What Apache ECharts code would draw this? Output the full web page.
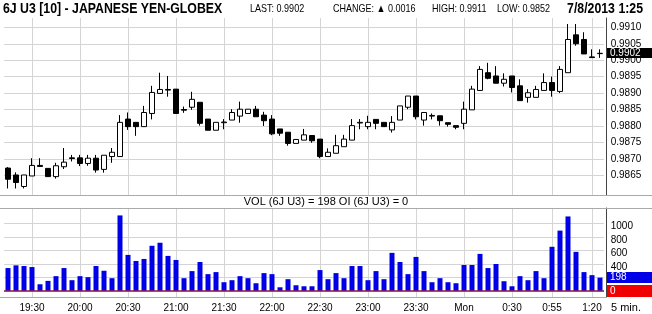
<!DOCTYPE html>
<html><head><meta charset="utf-8">
<script src="https://cdn.jsdelivr.net/npm/echarts@6/dist/echarts.min.js"></script>
<style>html,body{margin:0;padding:0;background:#fff}#c{width:652px;height:314px}</style>
</head><body><div id="c"></div>
<script>
// ---- data ----
const categories = ("19:15 19:20 19:25 19:30 19:35 19:40 19:45 19:50 19:55 " +
  "20:00 20:05 20:10 20:15 20:20 20:25 20:30 20:35 20:40 20:45 20:50 20:55 " +
  "21:00 21:05 21:10 21:15 21:20 21:25 21:30 21:35 21:40 21:45 21:50 21:55 " +
  "22:00 22:05 22:10 22:15 22:20 22:25 22:30 22:35 22:40 22:45 22:50 22:55 " +
  "23:00 23:05 23:10 23:15 23:20 23:25 23:30 23:35 23:40 23:45 23:50 23:55 " +
  "0:00 0:05 0:10 0:15 0:20 0:25 0:30 0:35 0:40 0:45 0:50 0:55 " +
  "1:00 1:05 1:10 1:15 1:20 1:25").split(' ');

const openP = [0.98672,0.98651,0.98616,0.98648,0.98680,0.98671,0.98646,0.98676,0.98703,0.98703,
  0.98686,0.98702,0.98668,0.98707,0.98707,0.98821,0.98811,0.98798,0.98838,0.98899,
  0.98911,0.98912,0.98850,0.98857,0.98872,0.98821,0.98787,0.98810,0.98818,0.98830,
  0.98838,0.98851,0.98833,0.98821,0.98791,0.98781,0.98747,0.98757,0.98771,0.98760,
  0.98707,0.98717,0.98737,0.98757,0.98809,0.98798,0.98820,0.98811,0.98788,0.98818,
  0.98857,0.98891,0.98818,0.98830,0.98831,0.98810,0.98801,0.98808,0.98849,0.98908,
  0.98962,0.98952,0.98930,0.98952,0.98922,0.98887,0.98887,0.98908,0.98932,0.98905,
  0.98962,0.99077,0.99063,0.99010,0.99020];
const closeP = [0.98638,0.98628,0.98651,0.98680,0.98677,0.98646,0.98679,0.98690,0.98701,0.98686,
  0.98702,0.98666,0.98711,0.98720,0.98811,0.98798,0.98798,0.98841,0.98902,0.98911,
  0.98909,0.98838,0.98848,0.98881,0.98808,0.98787,0.98811,0.98812,0.98841,0.98851,
  0.98851,0.98828,0.98816,0.98776,0.98778,0.98747,0.98759,0.98773,0.98755,0.98707,
  0.98720,0.98740,0.98760,0.98801,0.98811,0.98811,0.98808,0.98798,0.98811,0.98861,
  0.98891,0.98828,0.98841,0.98832,0.98816,0.98805,0.98796,0.98851,0.98912,0.98972,
  0.98945,0.98930,0.98942,0.98917,0.98877,0.98901,0.98911,0.98932,0.98908,0.98972,
  0.99063,0.99050,0.99019,0.99008,0.99021];
const lowP = [0.98610,0.98610,0.98610,0.98648,0.98677,0.98646,0.98640,0.98669,0.98692,0.98678,
  0.98679,0.98658,0.98658,0.98688,0.98707,0.98788,0.98770,0.98798,0.98820,0.98899,
  0.98889,0.98838,0.98840,0.98849,0.98801,0.98787,0.98787,0.98790,0.98818,0.98810,
  0.98838,0.98828,0.98800,0.98772,0.98770,0.98740,0.98747,0.98757,0.98749,0.98702,
  0.98707,0.98717,0.98737,0.98757,0.98790,0.98790,0.98790,0.98798,0.98780,0.98818,
  0.98851,0.98820,0.98801,0.98820,0.98801,0.98798,0.98790,0.98790,0.98849,0.98908,
  0.98942,0.98930,0.98920,0.98902,0.98877,0.98871,0.98887,0.98908,0.98889,0.98900,
  0.98962,0.99044,0.99019,0.99007,0.99007];
const highP = [0.98675,0.98659,0.98651,0.98702,0.98702,0.98671,0.98688,0.98733,0.98712,0.98712,
  0.98712,0.98712,0.98711,0.98733,0.98833,0.98841,0.98811,0.98861,0.98922,0.98962,
  0.98952,0.98912,0.98859,0.98904,0.98872,0.98821,0.98811,0.98821,0.98851,0.98874,
  0.98851,0.98861,0.98843,0.98833,0.98791,0.98781,0.98759,0.98791,0.98771,0.98760,
  0.98732,0.98773,0.98773,0.98821,0.98821,0.98831,0.98820,0.98811,0.98830,0.98861,
  0.98891,0.98891,0.98841,0.98838,0.98831,0.98810,0.98801,0.98874,0.98922,0.98982,
  0.98992,0.98982,0.98960,0.98952,0.98942,0.98912,0.98922,0.98960,0.98950,0.98982,
  0.99110,0.99110,0.99085,0.99033,0.99033];
const volume = [340,380,370,355,100,150,220,340,160,220,
  205,370,300,190,1120,535,445,475,670,715,
  520,460,190,295,430,250,280,130,160,220,
  190,115,265,250,55,175,85,70,70,310,
  175,265,190,370,370,160,295,175,565,430,
  250,505,295,130,190,130,115,385,385,550,
  340,400,145,70,220,160,295,190,655,895,
  1105,580,280,235,198];
const openInterest = [0];
const xLabelTimes = ['19:30','20:00','20:30','21:00','21:30','22:00','22:30','23:00','23:30','0:00','0:30','0:55','1:20'];
const xLabelText = {'0:00':'Mon'};
const priceLabelMin = 0.9865;
const volLabelValues = [400,600,800,1000];
const headerTitle = '6J U3 [10] - JAPANESE YEN-GLOBEX';
const headerChange = '0.0016';
const headerHigh = '0.9911';
const headerLow = '0.9852';
const headerDate = '7/8/2013 1:25';
const volTitle = 'VOL (6J U3) = 198 OI (6J U3) = 0';

// ---- chart ----
const FF = "'Liberation Sans', Arial, sans-serif";
const GRID = '#d4d4d4';
const NONE = 'rgba(0,0,0,0)';
const chart = echarts.init(document.getElementById('c'), null, {renderer:'canvas'});
const candleData = categories.map((c,i)=>[openP[i], closeP[i], lowP[i], highP[i]]);
const vLines = xLabelTimes.map(t => ({xAxis: t}));
const lastIdx = categories.length - 1;

const option = {
  animation: false,
  backgroundColor: '#fff',
  grid: [{left:4, width:600, top:18, height:177}, {left:4, width:600, top:208, height:89}],
  xAxis: [
    {type:'category', gridIndex:0, data:categories, boundaryGap:true,
     axisLine:{show:false}, axisTick:{show:false}, axisLabel:{show:false}, splitLine:{show:false}},
    {type:'category', gridIndex:1, data:categories, boundaryGap:true,
     axisLine:{show:false}, axisTick:{show:false}, splitLine:{show:false},
     axisLabel:{interval:(i,v)=>xLabelTimes.includes(v), formatter:v=>xLabelText[v]||v,
       fontSize:10, color:'#000', margin:6, fontFamily:FF}}
  ],
  yAxis: [
    {type:'value', gridIndex:0, position:'right', min:0.985901, max:0.991283, splitNumber:10, offset:2.7,
     axisLine:{show:true, onZero:false, lineStyle:{color:'#444'}}, axisTick:{show:false},
     axisLabel:{showMinLabel:false, showMaxLabel:false, formatter:v=>(v >= priceLabelMin - 1e-7 ? v.toFixed(4) : ''), fontSize:10, color:'#000', margin:4, fontFamily:FF},
     splitLine:{show:true, showMinLine:false, showMaxLine:false, lineStyle:{color:[NONE,GRID,GRID,GRID,GRID,GRID,GRID,GRID,GRID,GRID,GRID], width:1}}},
    {type:'value', gridIndex:1, position:'right', min:-89, max:1230, splitNumber:7, offset:2.7,
     axisLine:{show:true, onZero:false, lineStyle:{color:'#444'}}, axisTick:{show:false},
     axisLabel:{showMinLabel:false, showMaxLabel:false, verticalAlign:'top', lineHeight:6, formatter:v=>volLabelValues.includes(v)?String(v):'', fontSize:10, color:'#000', margin:4, fontFamily:FF},
     splitLine:{show:true, showMinLine:false, showMaxLine:false, lineStyle:{color:[GRID,GRID,GRID,GRID,GRID,GRID,NONE], width:1}}}
  ],
  series: [
    {type:'candlestick', xAxisIndex:0, yAxisIndex:0, data:candleData, barWidth:5, clip:false, z:3,
     itemStyle:{color:'#fff', color0:'#000', borderColor:'#000', borderColor0:'#000', borderWidth:1},
     markLine:{silent:true, symbol:'none', z:1, label:{show:false}, lineStyle:{color:GRID, type:'solid', width:1}, data:vLines, animation:false}},
    {type:'bar', xAxisIndex:1, yAxisIndex:1, data:volume, barWidth:5, z:3,
     itemStyle:{color:'#0000e6'},
     markLine:{silent:true, symbol:'none', z:1, label:{show:false}, lineStyle:{color:GRID, type:'solid', width:1}, data:vLines, animation:false}},
    {type:'line', xAxisIndex:1, yAxisIndex:1, data:categories.map(()=>openInterest[0]), showSymbol:false, lineStyle:{width:0}, z:4,
     markLine:{silent:true, symbol:'none', z:6, label:{show:false}, lineStyle:{color:'#8e1a4e', type:'solid', width:1.5}, data:[{yAxis:openInterest[0]}], animation:false}}
  ]
};
chart.setOption(option);

const py = chart.convertToPixel({gridIndex:0}, [lastIdx, closeP[lastIdx]])[1];
const vy = chart.convertToPixel({gridIndex:1}, [lastIdx, volume[lastIdx]])[1];
const oy = chart.convertToPixel({gridIndex:1}, [lastIdx, openInterest[0]])[1];
const hdr = (x, text, bold, size, align, sx) => ({type:'text', x:x, y:9, z:10, scaleX:sx||0.82,
  style:{text:text, font:(bold?'bold ':'')+size+'px '+FF, fill:'#000', align:align||'left', verticalAlign:'middle'}});
const hline = (x1,x2,y,c) => ({type:'line', z:10, shape:{x1:x1,y1:y,x2:x2,y2:y}, style:{stroke:c, lineWidth:1}});
const box = (y, h, color, text) => ([
  {type:'rect', z:10, shape:{x:607, y:Math.round(y-h/2), width:45, height:h}, style:{fill:color}},
  {type:'text', z:11, x:610, y:Math.round(y-h/2)+h/2, style:{text:text, font:'10px '+FF, fill:'#fff', align:'left', verticalAlign:'middle'}}
]);
chart.setOption({graphic:[
  hdr(3, headerTitle, true, 15),
  hdr(250, 'LAST: ' + closeP[lastIdx].toFixed(4), false, 11),
  hdr(333, 'CHANGE: \u25B2 ' + headerChange, false, 11),
  hdr(432, 'HIGH: ' + headerHigh, false, 11),
  hdr(497, 'LOW: ' + headerLow, false, 11),
  hdr(643, headerDate, true, 15, 'right'),
  hline(0, 652, 195.5, '#aaaaaa'),
  hline(0, 652, 208.5, '#aaaaaa'),
  hline(0, 607, 297.5, '#aaaaaa'),
  {type:'text', z:10, x:326, y:202, style:{text:volTitle, font:'11px '+FF, fill:'#000', align:'center', verticalAlign:'middle'}},
  {type:'text', z:10, x:611, y:308, style:{text:'5 min.', font:'11px '+FF, fill:'#000', align:'left', verticalAlign:'middle'}},
  ...box(py, 10, '#000', closeP[lastIdx].toFixed(4)),
  ...box(vy, 11, '#0000e6', String(volume[lastIdx])),
  ...box(oy, 12, '#f00000', String(openInterest[0]))
]});
</script></body></html>
